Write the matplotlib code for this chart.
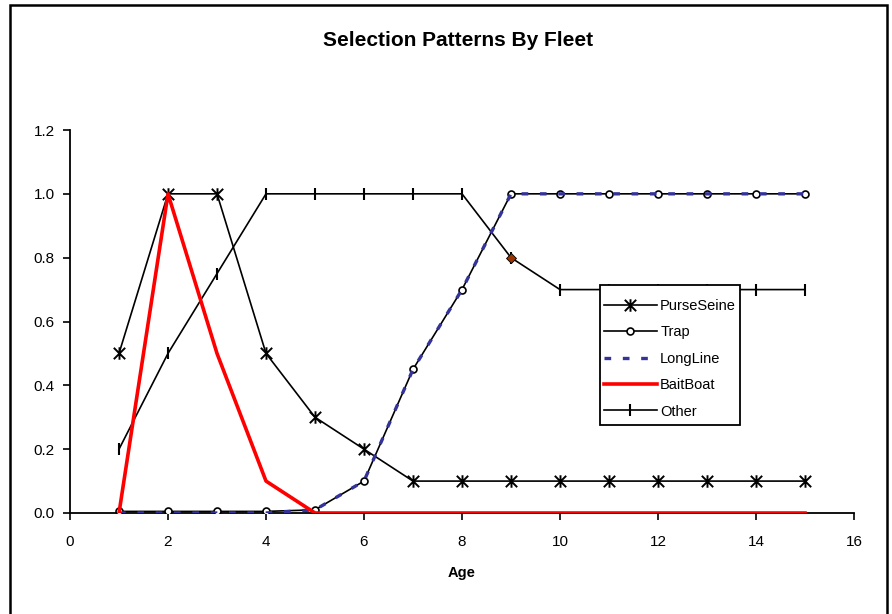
import matplotlib.pyplot as plt
from matplotlib.patches import Rectangle
from matplotlib.path import Path

plt.rcParams['font.family'] = ['Liberation Sans', 'DejaVu Sans']

# data
ages = list(range(1, 16))
purse_seine = [0.5, 1.0, 1.0, 0.5, 0.3, 0.2, 0.1, 0.1, 0.1, 0.1, 0.1, 0.1, 0.1, 0.1, 0.1]
trap = [0.005, 0.005, 0.005, 0.005, 0.01, 0.1, 0.45, 0.7, 1.0, 1.0, 1.0, 1.0, 1.0, 1.0, 1.0]
long_line = [0.0, 0.0, 0.0, 0.0, 0.01, 0.1, 0.45, 0.7, 1.0, 1.0, 1.0, 1.0, 1.0, 1.0, 1.0]
bait_boat = [0.0, 1.0, 0.5, 0.1, 0.0, 0.0, 0.0, 0.0, 0.0, 0.0, 0.0, 0.0, 0.0, 0.0, 0.0]
other = [0.2, 0.5, 0.75, 1.0, 1.0, 1.0, 1.0, 1.0, 0.8, 0.7, 0.7, 0.7, 0.7, 0.7, 0.7]
highlight_age = 9
highlight_val = 0.8

W, H = 892, 614

# excel style star: X with a vertical bar
star = Path([(-1, -1), (1, 1), (-1, 1), (1, -1), (0, -1.1), (0, 1.1)],
            [Path.MOVETO, Path.LINETO, Path.MOVETO, Path.LINETO, Path.MOVETO, Path.LINETO])

fig = plt.figure(figsize=(8.92, 6.14), dpi=100)
ax = fig.add_axes([70 / W, 1 - 513 / H, 784 / W, 383 / H])

# figure border
fig.patches.append(Rectangle((10 / W, -0.01), 877 / W, 1 - 5 / H + 0.01,
                             transform=fig.transFigure, fill=False,
                             edgecolor='black', linewidth=1.8))

ax.plot(ages, purse_seine, color='black', lw=1.2, marker=star,
        markersize=9, markeredgewidth=1.4, label='PurseSeine', zorder=3)
ax.plot(ages, trap, color='black', lw=1.2, marker='o', markersize=5,
        markerfacecolor='white', markeredgecolor='black', markeredgewidth=1.2,
        label='Trap', zorder=3)
ax.plot(ages, long_line, color='#333399', lw=2.4, linestyle=(0, (2, 3.5)),
        label='LongLine', zorder=4)
ax.plot(ages, bait_boat, color='#ff0000', lw=2.6, label='BaitBoat', zorder=5)
ax.plot(ages, other, color='black', lw=1.2, marker='|', markersize=8,
        markeredgewidth=1.5, label='Other', zorder=3)
ax.plot([highlight_age], [highlight_val], marker='D', markersize=5,
        color='#993300', markeredgecolor='black', markeredgewidth=0.6, zorder=6)

ax.set_xlim(0, 16)
ax.set_ylim(0, 1.2)
ax.set_xticks(range(0, 17, 2))
ax.set_yticks([0, 0.2, 0.4, 0.6, 0.8, 1.0, 1.2])
ax.set_yticklabels([f'{v:.1f}' for v in [0, 0.2, 0.4, 0.6, 0.8, 1.0, 1.2]])
ax.tick_params(direction='out', length=5, width=1.2, labelsize=11)
ax.tick_params(axis='x', pad=11)
ax.tick_params(axis='y', pad=6)
for side in ['top', 'right']:
    ax.spines[side].set_visible(False)
for side in ['left', 'bottom']:
    ax.spines[side].set_linewidth(1.3)

ax.set_xlabel('Age', fontsize=10.5, fontweight='bold', labelpad=12)
fig.text(458 / W, 1 - 40 / H, 'Selection Patterns By Fleet', ha='center',
         va='center', fontsize=15, fontweight='bold')

# legend box drawn separately so padding can match the excel look
box = Rectangle((600 / W, 1 - 425 / H), 140 / W, 140 / H, transform=fig.transFigure,
                facecolor='white', edgecolor='black', linewidth=1.3, zorder=7)
ax.add_artist(box)
box.set_clip_on(False)

leg = ax.legend(loc='upper left', bbox_to_anchor=(604 / W, 1 - 299 / H),
                bbox_transform=fig.transFigure, fontsize=10.5, handlelength=3.6,
                frameon=False, borderpad=0, labelspacing=0.85,
                handletextpad=0.25, borderaxespad=0)
leg.set_zorder(8)

fig.savefig('out.png', dpi=100)
